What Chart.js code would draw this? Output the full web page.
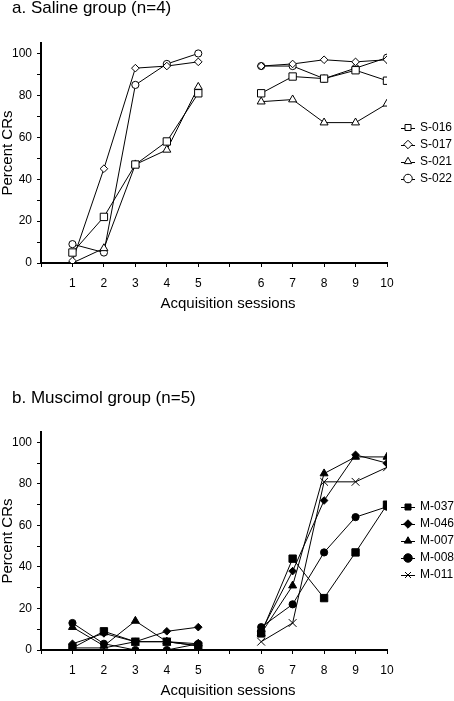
<!DOCTYPE html>
<html><head><meta charset="utf-8">
<script src="https://cdn.jsdelivr.net/npm/chart.js@4.4.1/dist/chart.umd.min.js"></script>
<style>
html,body{margin:0;padding:0;background:#fff;width:454px;height:701px;overflow:hidden}
.panel{position:absolute;left:0;width:454px}
canvas{display:block}
</style></head><body>
<div class="panel" style="top:0;height:313px"><canvas id="chartA" width="454" height="313"></canvas></div>
<div class="panel" style="top:350px;height:350px"><canvas id="chartB" width="454" height="350"></canvas></div>
<script>
// ---- data ----
const SESSIONS = [1, 2, 3, 4, 5, 6, 7, 8, 9, 10];
const GAP_AFTER = 5;               // blank slot between session 5 and 6
const Y_LABELLED = [0, 20, 40, 60, 80, 100];

const SALINE_LABELS = ['S-016', 'S-017', 'S-021', 'S-022'];
const S016 = [5, 22, 47, 58, 81, 81, 89, 88, 92, 87];
const S017 = [1, 45, 93, 94, 96, 94, 95, 97, 96, 97];
const S021 = [0, 7, 47, 54, 84, 77, 78, 67, 67, 76];
const S022 = [9, 5, 85, 95, 100, 94, 94, 88, 93, 98];

const MUSCIMOL_LABELS = ['M-037', 'M-046', 'M-007', 'M-008', 'M-011'];
const M037 = [1, 9, 4, 4, 2, 8, 44, 25, 47, 70];
const M046 = [3, 8, 4, 9, 11, 9, 38, 72, 94, 90];
const M007 = [11, 2, 14, 4, 3, 8, 31, 85, 93, 93];
const M008 = [13, 3, 0, 0, 3, 11, 22, 47, 64, 69];
const M011 = [1, 1, 4, 4, 2, 4, 13, 81, 81, 88];

// ---- helpers ----
const FONT = '"Liberation Sans", Arial, Helvetica, sans-serif';
function axisPos(s) { return s + (s > GAP_AFTER ? 1 : 0); }
const X_MAX = axisPos(SESSIONS[SESSIONS.length - 1]);
function toPoints(vals) {
  const pts = [];
  SESSIONS.forEach((s, i) => {
    if (s === GAP_AFTER + 1) pts.push({x: GAP_AFTER + 1, y: null});
    pts.push({x: axisPos(s), y: vals[i]});
  });
  return pts;
}
function xTickLabel(v) {
  const s = SESSIONS.find(q => axisPos(q) === v);
  return s === undefined ? '' : String(s);
}
function ds(label, vals, style, radius, filled) {
  return {
    label, data: toPoints(vals),
    borderColor: '#000', borderWidth: 1,
    backgroundColor: filled ? '#000' : '#fff',
    pointStyle: style, pointRadius: radius,
    pointBackgroundColor: filled ? '#000' : '#fff',
    pointBorderColor: '#000', pointBorderWidth: 1,
    tension: 0, spanGaps: false, fill: false
  };
}

// ---- plugins ----
const panelTitle = {
  id: 'panelTitle',
  afterDraw(chart, args, opts) {
    const ctx = chart.ctx;
    ctx.save();
    ctx.font = opts.size + 'px ' + FONT;
    ctx.fillStyle = '#000';
    ctx.textBaseline = 'alphabetic';
    ctx.textAlign = 'left';
    ctx.fillText(opts.text, opts.x, opts.y);
    ctx.restore();
  }
};
const legendPlace = {
  id: 'legendPlace',
  afterLayout(chart, args, opts) {
    const lg = chart.legend;
    if (!lg) return;
    const w = lg.width;
    lg.left = opts.left; lg.right = opts.left + w;
  },
  beforeDraw(chart) {
    const lg = chart.legend;
    if (!lg || !lg.legendHitBoxes) return;
    const ctx = chart.ctx;
    const fs = lg.options.labels.font.size;
    const bw = Math.min(lg.options.labels.boxWidth, fs);
    ctx.save();
    ctx.strokeStyle = '#000'; ctx.lineWidth = 1;
    lg.legendHitBoxes.forEach(hb => {
      const y = Math.round(hb.top + fs / 2) + 0.5;
      ctx.beginPath();
      ctx.moveTo(hb.left - 1, y);
      ctx.lineTo(hb.left + bw + 1, y);
      ctx.stroke();
    });
    ctx.restore();
  }
};
const shiftXTitle = {
  id: 'shiftXTitle',
  afterLayout(chart, args, opts) {
    const s = chart.scales.x;
    if (s && !s.__shifted) {
      const orig = s.drawTitle;
      s.drawTitle = function () {
        this.ctx.save();
        this.ctx.translate(opts.dx || 0, 0);
        orig.apply(this, arguments);
        this.ctx.restore();
      };
      s.__shifted = true;
    }
  }
};

function makeConfig(datasets, titleText, titleY, padTop) {
  return {
    type: 'line',
    data: {datasets},
    plugins: [panelTitle, legendPlace, shiftXTitle],
    options: {
      responsive: false, animation: false, devicePixelRatio: 1,
      layout: {padding: {top: padTop, left: 0, right: 3, bottom: 0}},
      plugins: {
        tooltip: {enabled: false},
        title: {display: false},
        panelTitle: {text: titleText, x: 12, y: titleY, size: 17},
        legendPlace: {left: 397},
        shiftXTitle: {dx: 14},
        legend: {
          position: 'right', align: 'center', maxWidth: 64, fullSize: false,
          labels: {usePointStyle: true, boxWidth: 12, boxHeight: 6, padding: 5,
                   color: '#000', font: {family: FONT, size: 12}}
        }
      },
      scales: {
        x: {
          type: 'linear', min: 0, max: X_MAX,
          afterFit: s => { s.height = 50; },
          ticks: {stepSize: 1, autoSkip: false, maxRotation: 0, color: '#000',
                  font: {family: FONT, size: 12}, padding: 9,
                  callback: v => xTickLabel(v)},
          grid: {drawOnChartArea: false, drawTicks: true, tickLength: 4, color: '#000', lineWidth: 1},
          border: {display: true, color: '#000', width: 2},
          title: {display: true, text: 'Acquisition sessions', color: '#000',
                  font: {family: FONT, size: 15, lineHeight: 1.2}, padding: {top: 0, bottom: 0}}
        },
        y: {
          type: 'linear', min: 0, max: 105,
          afterFit: s => { s.width = 41; },
          ticks: {stepSize: 10, includeBounds: false, autoSkip: false, color: '#000',
                  font: {family: FONT, size: 12}, padding: 5,
                  callback: v => Y_LABELLED.includes(v) ? String(v) : ''},
          grid: {drawOnChartArea: false, drawTicks: true, tickLength: 4, color: '#000', lineWidth: 1},
          border: {display: true, color: '#000', width: 2},
          title: {display: true, text: 'Percent CRs', color: '#000',
                  font: {family: FONT, size: 15, lineHeight: 1.1}, padding: 0}
        }
      }
    }
  };
}

const salineSets = [
  ds(SALINE_LABELS[0], S016, 'rect', 5.2, false),
  ds(SALINE_LABELS[1], S017, 'rectRot', 3.8, false),
  ds(SALINE_LABELS[2], S021, 'triangle', 4.6, false),
  ds(SALINE_LABELS[3], S022, 'circle', 3.6, false)
];
const muscimolSets = [
  ds(MUSCIMOL_LABELS[0], M037, 'rect', 5.2, true),
  ds(MUSCIMOL_LABELS[1], M046, 'rectRot', 3.8, true),
  ds(MUSCIMOL_LABELS[2], M007, 'triangle', 4.6, true),
  ds(MUSCIMOL_LABELS[3], M008, 'circle', 3.6, true),
  ds(MUSCIMOL_LABELS[4], M011, 'crossRot', 5.5, true)
];

new Chart(document.getElementById('chartA'), makeConfig(salineSets, 'a. Saline group (n=4)', 13, 43));
new Chart(document.getElementById('chartB'), makeConfig(muscimolSets, 'b. Muscimol group (n=5)', 53, 82));
</script>
</body></html>
